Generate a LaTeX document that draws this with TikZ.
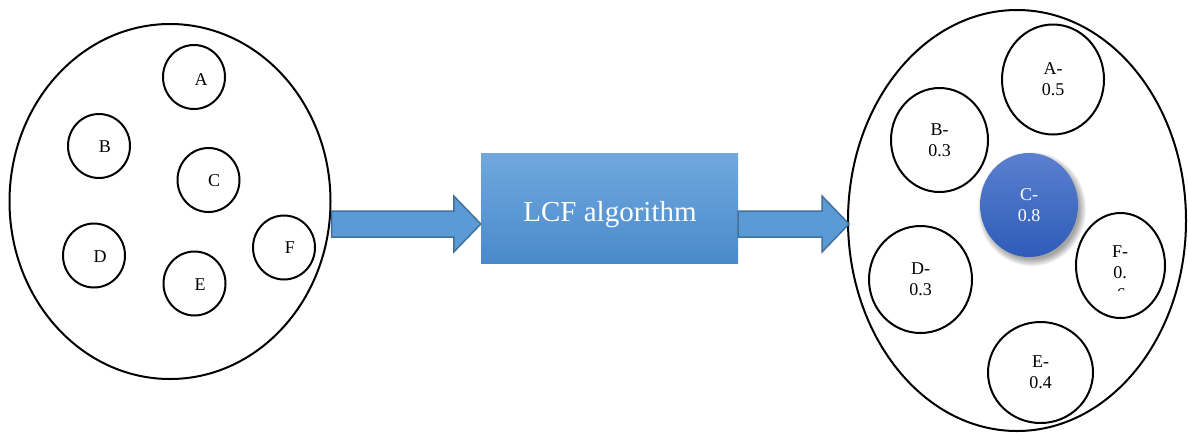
\documentclass[tikz,border=0pt]{standalone}
\usepackage{fontspec}
\setmainfont{Liberation Serif}
\usetikzlibrary{shapes.geometric,calc}
\definecolor{arrowfill}{HTML}{5B9BD5}
\definecolor{arrowline}{HTML}{41719C}
\definecolor{boxtop}{HTML}{70A8DE}
\definecolor{boxbot}{HTML}{4A8ACB}
\definecolor{ctop}{HTML}{5B80CF}
\definecolor{cbot}{HTML}{2E5CB8}
\tikzset{
  outer/.style={ellipse, draw=black, line width=2pt, inner sep=0pt},
  smallc/.style={ellipse, draw=black, line width=2pt, inner sep=0pt, minimum width=62pt, minimum height=64pt},
  bigc/.style={ellipse, draw=black, line width=2pt, inner sep=0pt, align=center, font=\fontsize{18}{21}\selectfont},
  lbl/.style={inner sep=0pt, font=\fontsize{18}{21}\selectfont},
  arrowsty/.style={fill=arrowfill, draw=arrowline, line width=1.5pt, line join=miter},
  algbox/.style={rectangle, top color=boxtop, bottom color=boxbot, draw=none, minimum width=257pt, minimum height=110pt, inner sep=0pt},
}
\newcommand\blockarrow[2]{%
  \draw[arrowsty] ($(#1)+(0,-13)$) -- ($(#2)+(-27,-13)$) -- ($(#2)+(-27,-28)$) -- (#2)
    -- ($(#2)+(-27,28)$) -- ($(#2)+(-27,13)$) -- ($(#1)+(0,13)$) -- cycle;}
\begin{document}
\begin{tikzpicture}[x=1pt,y=-1pt]
\useasboundingbox (0,0) rectangle (1188,432);
% left group
\node[outer, minimum width=321pt, minimum height=355pt] (L) at (170,201.5) {};
\node[smallc] (la) at (194,77) {};
\node[smallc] (lb) at (99,146) {};
\node[smallc] (lc) at (208.5,180) {};
\node[smallc] (ld) at (94,255.5) {};
\node[smallc] (le) at (194.5,283.5) {};
\node[smallc] (lf) at (284,247.5) {};
\node[lbl] at (201,80) {A};
\node[lbl] at (105,147) {B};
\node[lbl] at (214,181) {C};
\node[lbl] at (100,257) {D};
\node[lbl] at (200,285) {E};
\node[lbl] at (290,248) {F};
% box
\node[algbox] (box) at (609.5,208) {};
\node[anchor=base, text=white, font=\fontsize{29}{32}\selectfont, inner sep=0pt] (boxtxt) at (610,221.5) {LCF algorithm};
% right group
\node[outer, minimum width=338pt, minimum height=421pt] (R) at (1017,220.5) {};
\node[bigc, minimum width=102pt, minimum height=110pt] (ra) at (1053,79.5) {A-\\0.5};
\node[bigc, minimum width=97pt, minimum height=104pt] (rb) at (939.5,140) {B-\\0.3};
\node[bigc, minimum width=103pt, minimum height=107pt] (rd) at (920.5,279.5) {D-\\0.3};
\node[bigc, minimum width=89pt, minimum height=105pt] (rf) at (1120.5,265.5) {};
\node[bigc, minimum width=105pt, minimum height=101pt] (re) at (1040.5,372.5) {E-\\0.4};
\node[lbl, align=center] (rft) at (1120,262) {F-\\0.};
\begin{scope}
  \clip (1090,280) rectangle (1150,290);
  \node[lbl, anchor=base] (rf6) at (1121,300) {6};
\end{scope}
% C with soft shadow
\foreach \i in {0,...,9}{
  \fill[black, opacity=0.045] ($(1032,209)$) ellipse [x radius={47+\i*0.8}, y radius={50+\i*0.8}];
}
\node[ellipse, inner sep=0pt, minimum width=98pt, minimum height=104pt, top color=ctop, bottom color=cbot, text=white, align=center, font=\fontsize{18}{21}\selectfont] (rc) at (1029,205) {C-\\0.8};
% arrows
\coordinate (a1s) at (L.east |- 0,224);
\coordinate (a1e) at (box.west |- 0,224);
\coordinate (a2s) at (box.east |- 0,224);
\coordinate (a2e) at ($(R.west |- 0,224)+(2,0)$);
\blockarrow{a1s}{a1e}
\blockarrow{a2s}{a2e}
\end{tikzpicture}
\end{document}
